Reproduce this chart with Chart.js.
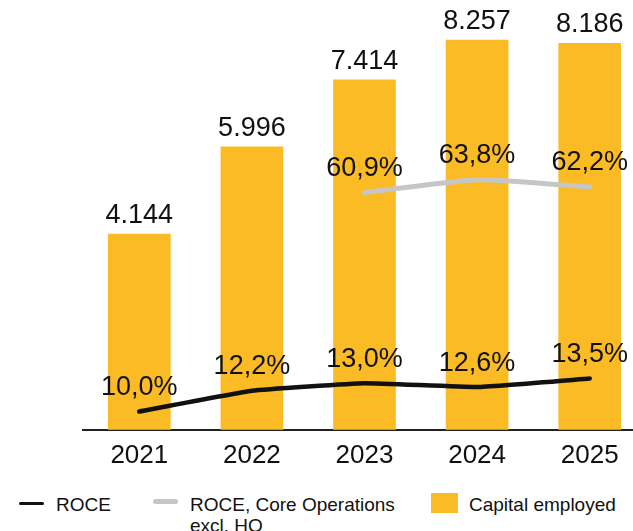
<!DOCTYPE html>
<html>
<head>
<meta charset="utf-8">
<script src="https://cdn.jsdelivr.net/npm/chart.js@4"></script>
<style>
  html, body { margin:0; padding:0; background:#fff; overflow:hidden; width:633px; height:531px; }
  #wrap { position:absolute; left:0; top:0; width:646px; height:482px; }
  .lg { position:absolute; font-family:"Liberation Sans", Arial, sans-serif; font-size:19px; color:#111; line-height:21px; }
  .mk { position:absolute; }
</style>
</head>
<body>
<div id="wrap"><canvas id="c" width="646" height="482"></canvas></div>
<div class="mk" style="left:19px;top:502px;width:25px;height:3px;background:#111;border-radius:2px"></div>
<div class="lg" style="left:56px;top:494px">ROCE</div>
<div class="mk" style="left:153px;top:499px;width:25px;height:5px;background:#c6c6c6;border-radius:3px"></div>
<div class="lg" style="left:190px;top:494px">ROCE, Core Operations<br>excl. HQ</div>
<div class="mk" style="left:431px;top:493px;width:27px;height:20px;background:#FBBB25"></div>
<div class="lg" style="left:469px;top:494px">Capital employed</div>
<script>
const years = ['2021', '2022', '2023', '2024', '2025'];
const capitalEmployed = [4144, 5996, 7414, 8257, 8186];
const roce = [10.0, 12.2, 13.0, 12.6, 13.5];
const roceCore = [null, null, 60.9, 63.8, 62.2];

const FONT = '"Liberation Sans", Arial, sans-serif';

function fmtThousands(v) {
  return String(v).replace(/\B(?=(\d{3})+(?!\d))/g, '.');
}
function fmtPct(v) {
  return v.toFixed(1).replace('.', ',') + '%';
}

const labelPlugin = {
  id: 'valueLabels',
  afterDatasetsDraw(chart) {
    const ctx = chart.ctx;
    ctx.save();
    ctx.fillStyle = '#111';
    ctx.font = '27px ' + FONT;
    ctx.textAlign = 'center';
    ctx.textBaseline = 'alphabetic';
    chart.data.datasets.forEach((ds, di) => {
      const meta = chart.getDatasetMeta(di);
      meta.data.forEach((el, i) => {
        const v = ds.data[i];
        if (v === null || v === undefined) return;
        if (ds.type === 'bar') {
          ctx.fillText(fmtThousands(v), el.x, el.y - 11);
        } else {
          ctx.fillText(fmtPct(v), el.x, el.y - 16.5);
        }
      });
    });
    ctx.restore();
  }
};

new Chart(document.getElementById('c'), {
  data: {
    labels: years,
    datasets: [
      {
        type: 'line',
        label: 'ROCE',
        data: roce,
        yAxisID: 'yRoce',
        borderColor: '#111',
        borderWidth: 4.5,
        borderCapStyle: 'round',
        borderJoinStyle: 'round',
        pointRadius: 0,
        tension: 0.1,
        order: 1
      },
      {
        type: 'line',
        label: 'ROCE, Core Operations excl. HQ',
        data: roceCore,
        yAxisID: 'yCore',
        borderColor: '#c6c6c6',
        borderWidth: 5,
        borderCapStyle: 'round',
        borderJoinStyle: 'round',
        pointRadius: 0,
        tension: 0.15,
        order: 1
      },
      {
        type: 'bar',
        label: 'Capital employed',
        data: capitalEmployed,
        yAxisID: 'y',
        backgroundColor: '#FBBB25',
        barThickness: 62,
        order: 2
      }
    ]
  },
  options: {
    responsive: false,
    animation: false,
    layout: { padding: { left: 83, right: 0, top: 5, bottom: 1 } },
    plugins: { legend: { display: false }, tooltip: { enabled: false } },
    scales: {
      x: {
        grid: { display: false, drawTicks: false },
        border: { display: true, color: '#222', width: 2 },
        ticks: { color: '#111', font: { family: FONT, size: 26 }, padding: 10 }
      },
      y: { display: false, min: 0, max: 9000 },
      yRoce: { display: false, min: 8.06, max: 53.13 },
      yCore: { display: false, min: 6.97, max: 103.56 }
    }
  },
  plugins: [labelPlugin]
});
</script>
</body>
</html>
